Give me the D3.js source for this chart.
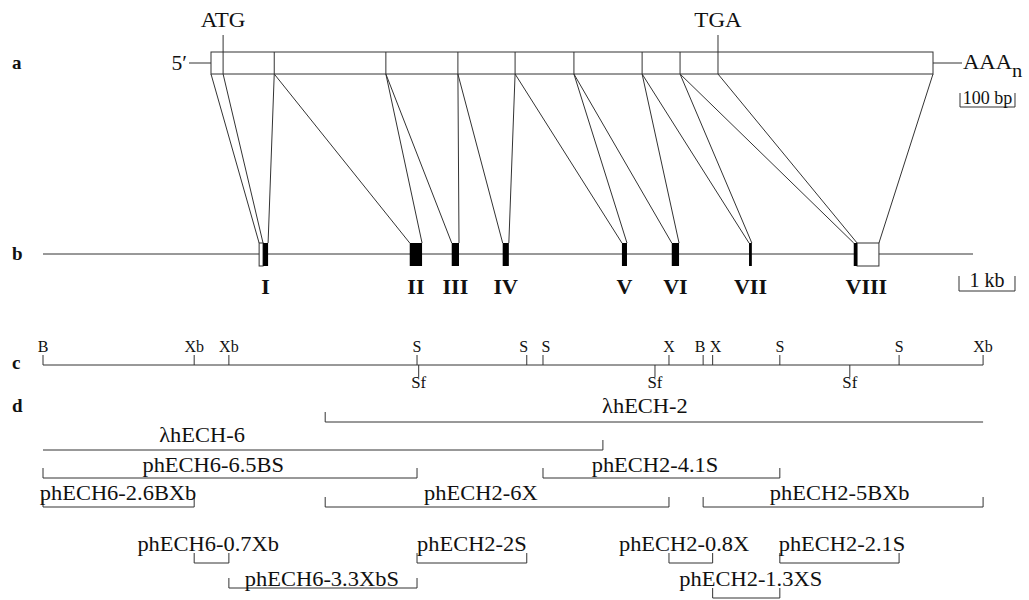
<!DOCTYPE html>
<html>
<head>
<meta charset="utf-8">
<script src="https://cdn.jsdelivr.net/npm/d3@7"></script>
<style>
  html, body { margin: 0; padding: 0; background: #fff; }
  svg { display: block; }
  text { font-family: "Liberation Serif", "DejaVu Serif", serif; fill: #111; }
</style>
</head>
<body>
<svg id="chart" width="1029" height="600"></svg>
<script>
// ---------------- DATA ----------------
// (a) mRNA: exon boundaries in bp along the transcript
const mrnaBounds = [0, 115, 318, 449, 553, 660, 784, 853, 1313];
const codonLabels = ["ATG", "TGA"];
const codonBp = [22, 922];

// (b) gene: positions in kb along the genomic locus
const geneLengthKb = 16.61;
const exonNames = ["I", "II", "III", "IV", "V", "VI", "VII", "VIII"];
const exonStartKb = [3.93, 6.55, 7.30, 8.21, 10.34, 11.23, 12.61, 14.48];
const exonEndKb   = [4.02, 6.77, 7.43, 8.32, 10.43, 11.36, 12.66, 14.54];
const utr5Kb = [3.86, 3.93];
const utr3Kb = [14.54, 14.93];

// (c) restriction map (kb)
const siteLabels = ["B", "Xb", "Xb", "S", "Sf", "S", "S", "Sf", "X", "B", "X", "S", "Sf", "S", "Xb"];
const siteKb     = [0.00, 2.70, 3.32, 6.68, 6.71, 8.64, 8.93, 10.93, 11.18, 11.79, 11.96, 13.16, 14.41, 15.29, 16.79];
const siteBelow  = [false, false, false, false, true, false, false, true, false, false, false, false, true, false, false];
const mapEndKb = 16.79;

// (d) clones (kb)
const cloneNames = ["λhECH-2", "λhECH-6", "phECH6-6.5BS", "phECH2-4.1S", "phECH6-2.6BXb", "phECH2-6X",
                    "phECH2-5BXb", "phECH6-0.7Xb", "phECH2-2S", "phECH2-0.8X", "phECH2-2.1S",
                    "phECH6-3.3XbS", "phECH2-1.3XS"];
const cloneStartKb = [5.04, 0.00, 0.00, 8.93, 0.00, 5.04, 11.79, 2.70, 6.68, 11.18, 13.16, 3.32, 11.96];
const cloneEndKb   = [16.79, 10.00, 6.68, 13.16, 2.70, 11.18, 16.79, 3.32, 8.64, 11.96, 15.29, 6.68, 13.16];
const cloneLabelKb = [10.75, 2.84, 3.04, 10.93, 1.34, 7.82, 14.23, 2.95, 7.66, 11.45, 14.27, 4.98, 12.64];
const cloneRow     = [0, 1, 2, 2, 3, 3, 3, 4, 4, 4, 4, 5, 6];
const cloneTicks   = ["left", "right", "both", "both", "both", "both", "both", "both", "both", "both", "both", "both", "both"];

// scale bars
const scaleBarBp = 100;
const scaleBarKb = 1;

// ---------------- LAYOUT ----------------
const svg = d3.select("#chart");
svg.append("rect").attr("width", 1029).attr("height", 600).attr("fill", "#fff");

const xM = d3.scaleLinear().domain([0, 1313]).range([211, 933]);       // mRNA bp
const xK = d3.scaleLinear().domain([0, geneLengthKb]).range([43, 973]); // genomic kb

const LINE = "#333";
const SX = 1.08; // horizontal stretch of the original lettering

function label(g, x, y, txt, opts = {}) {
  return g.append("text")
    .attr("transform", `translate(${x},${y}) scale(${opts.sx || SX},1)`)
    .attr("text-anchor", opts.anchor || "middle")
    .attr("font-size", opts.size || 21)
    .attr("font-weight", opts.bold ? "bold" : "normal")
    .text(txt);
}
function line(g, x1, y1, x2, y2, w = 1) {
  g.append("line").attr("x1", x1).attr("y1", y1).attr("x2", x2).attr("y2", y2)
    .attr("stroke", LINE).attr("stroke-width", w);
}

// section letters
const letters = ["a", "b", "c", "d"];
const letterY = [69, 260, 369, 412];
letters.forEach((l, i) => label(svg, 12, letterY[i], l, { anchor: "start", bold: true, size: 19, sx: 1 }));

// ---------------- (a) mRNA ----------------
const gA = svg.append("g");
const boxTop = 52, boxBot = 74;
gA.append("rect")
  .attr("x", xM(0)).attr("y", boxTop)
  .attr("width", xM(mrnaBounds[mrnaBounds.length - 1]) - xM(0)).attr("height", boxBot - boxTop)
  .attr("fill", "none").attr("stroke", LINE).attr("stroke-width", 1);
mrnaBounds.slice(1, -1).forEach(b => line(gA, xM(b), boxTop, xM(b), boxBot));
codonBp.forEach((b, i) => {
  line(gA, xM(b), 35, xM(b), boxBot);
  label(gA, xM(b), 27, codonLabels[i], { size: 20, sx: 1.15 });
});
// 5' and 3' tails
line(gA, xM(0) - 22, 63, xM(0), 63);
label(gA, xM(0) - 24, 70, "5′", { anchor: "end", size: 20 });
const endX = xM(mrnaBounds[mrnaBounds.length - 1]);
line(gA, endX, 63, endX + 29, 63);
const aaa = gA.append("text")
  .attr("transform", `translate(${endX + 30},69) scale(${SX},1)`)
  .attr("font-size", 21);
aaa.append("tspan").text("AAA");
aaa.append("tspan").attr("dy", 8).attr("font-size", 19).text("n");
// 100 bp scale bar
const sbx0 = 960, sbx1 = sbx0 + (xM(scaleBarBp) - xM(0));
line(gA, sbx0, 107, sbx1, 107);
line(gA, sbx0, 93, sbx0, 107);
line(gA, sbx1, 93, sbx1, 107);
label(gA, (sbx0 + sbx1) / 2, 104, `${scaleBarBp} bp`, { size: 18, sx: 1 });

// ---------------- connecting lines ----------------
const gC = svg.append("g");
const geneY = 254, exTop = 243, exBot = 266;
exonNames.forEach((n, i) => {
  const gs = i === 0 ? utr5Kb[0] : exonStartKb[i];
  const ge = i === exonNames.length - 1 ? utr3Kb[1] : exonEndKb[i];
  line(gC, xM(mrnaBounds[i]), boxBot, xK(gs), exTop);
  line(gC, xM(mrnaBounds[i + 1]), boxBot, xK(ge), exTop);
});
line(gC, xM(codonBp[0]), boxBot, xK(exonStartKb[0]), exTop);
line(gC, xM(codonBp[1]), boxBot, xK(exonEndKb[exonEndKb.length - 1]), exTop);

// ---------------- (b) gene ----------------
const gB = svg.append("g");
line(gB, xK(0), geneY, xK(geneLengthKb), geneY);
[utr5Kb, utr3Kb].forEach(u => {
  gB.append("rect").attr("x", xK(u[0])).attr("y", exTop)
    .attr("width", xK(u[1]) - xK(u[0])).attr("height", exBot - exTop)
    .attr("fill", "#fff").attr("stroke", LINE).attr("stroke-width", 1);
});
exonNames.forEach((n, i) => {
  gB.append("rect").attr("x", xK(exonStartKb[i])).attr("y", exTop)
    .attr("width", Math.max(2.5, xK(exonEndKb[i]) - xK(exonStartKb[i]))).attr("height", exBot - exTop)
    .attr("fill", "#000");
  const right = i === exonNames.length - 1 ? utr3Kb[1] : exonEndKb[i];
  label(gB, (xK(exonStartKb[i]) + xK(right)) / 2, 294, n, { bold: true, size: 21, sx: 1.05 });
});
// 1 kb scale bar
const kx0 = 959, kx1 = kx0 + (xK(scaleBarKb) - xK(0));
line(gB, kx0, 291, kx1, 291);
line(gB, kx0, 276, kx0, 291);
line(gB, kx1, 276, kx1, 291);
label(gB, (kx0 + kx1) / 2, 287, `${scaleBarKb} kb`, { size: 20, sx: 1 });

// ---------------- (c) restriction map ----------------
const gR = svg.append("g");
const mapY = 365;
line(gR, xK(0), mapY, xK(mapEndKb), mapY);
siteLabels.forEach((s, i) => {
  const x = xK(siteKb[i]);
  // neighbours closer than 0.3 kb: push the labels apart
  const prevClose = i > 0 && !siteBelow[i - 1] && siteKb[i] - siteKb[i - 1] < 0.3;
  const nextClose = i < siteKb.length - 1 && !siteBelow[i + 1] && siteKb[i + 1] - siteKb[i] < 0.3;
  if (siteBelow[i]) {
    line(gR, x, mapY, x, mapY + 12);
    label(gR, x, 388, s, { size: 16, sx: 1.05 });
  } else {
    line(gR, x, mapY - 10, x, mapY);
    const lx = nextClose ? x - 3 : prevClose ? x + 3 : x;
    label(gR, lx, 352, s, { size: 16, sx: 1.0 });
  }
});

// ---------------- (d) clones ----------------
const gD = svg.append("g");
const rowLineY = [422, 450, 478, 507, 563, 588, 598];
const rowTextY = [413, 442, 472, 500, 551, 586, 586];
cloneNames.forEach((c, i) => {
  const y = rowLineY[cloneRow[i]];
  const x0 = xK(cloneStartKb[i]), x1 = xK(cloneEndKb[i]);
  line(gD, x0, y, x1, y);
  const tk = cloneTicks[i];
  if (tk === "left" || tk === "both") line(gD, x0, y - 10, x0, y);
  if (tk === "right" || tk === "both") line(gD, x1, y - 10, x1, y);
  label(gD, xK(cloneLabelKb[i]), rowTextY[cloneRow[i]], c, { size: 21, sx: 1.07 });
});
</script>
</body>
</html>
